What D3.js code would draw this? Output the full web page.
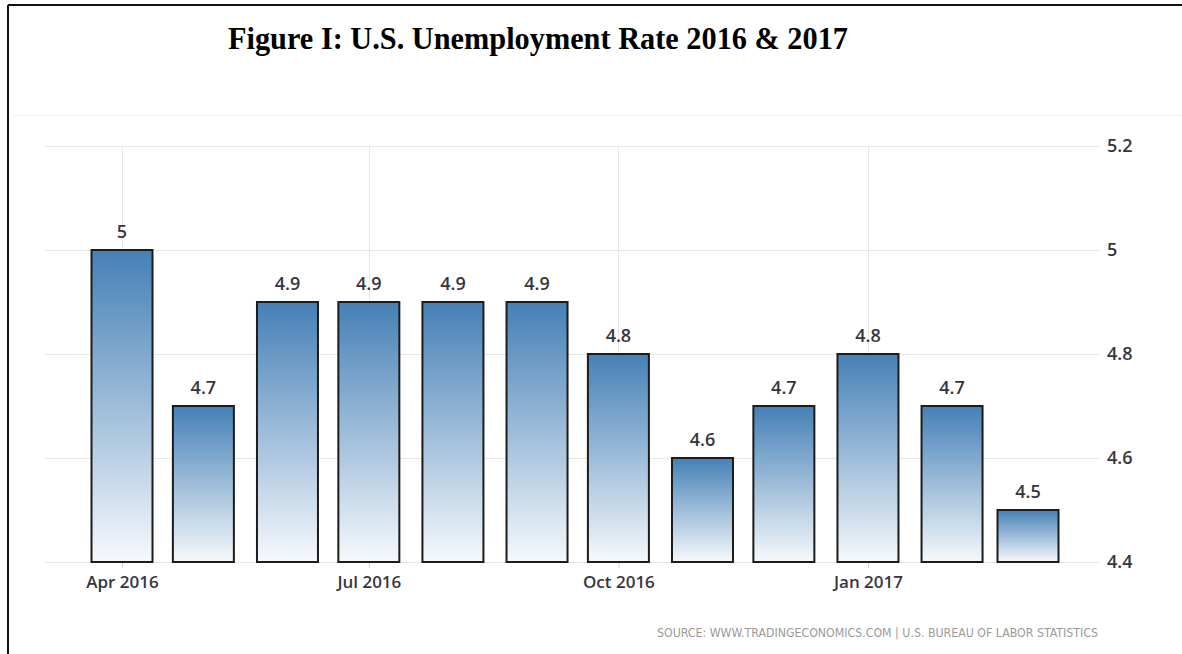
<!DOCTYPE html>
<html>
<head>
<meta charset="utf-8">
<script src="https://cdn.jsdelivr.net/npm/d3@7"></script>
<style>
  html, body { margin: 0; padding: 0; background: #fff; }
  svg { display: block; }
</style>
</head>
<body>
<svg id="chart" width="1182" height="654"></svg>
<script>
// Monthly U.S. unemployment rate, Apr 2016 – Mar 2017 (percent)
const months = ["2016-04", "2016-05", "2016-06", "2016-07", "2016-08", "2016-09",
                "2016-10", "2016-11", "2016-12", "2017-01", "2017-02", "2017-03"];
const rates = [5.0, 4.7, 4.9, 4.9, 4.9, 4.9, 4.8, 4.6, 4.7, 4.8, 4.7, 4.5];
const yTicks = [4.4, 4.6, 4.8, 5.0, 5.2];
const xTickMonths = ["2016-04", "2016-07", "2016-10", "2017-01"];
const titleText = "Figure I: U.S. Unemployment Rate 2016 & 2017";
const sourceText = "SOURCE: WWW.TRADINGECONOMICS.COM | U.S.  BUREAU OF LABOR STATISTICS";

const parseMonth = d3.utcParse("%Y-%m");
const data = months.map((m, i) => ({ date: parseMonth(m), value: rates[i] }));

const svg = d3.select("#chart");

// Outer frame (top and left edges)
svg.append("line").attr("x1", 8).attr("x2", 1182).attr("y1", 5).attr("y2", 5)
  .attr("stroke", "#111").attr("stroke-width", 2);
svg.append("line").attr("x1", 8).attr("x2", 8).attr("y1", 5).attr("y2", 654)
  .attr("stroke", "#111").attr("stroke-width", 2);

// Title
svg.append("text")
  .attr("x", 228).attr("y", 49)
  .attr("font-family", "'Liberation Serif', 'Times New Roman', serif")
  .attr("font-weight", "bold")
  .attr("font-size", 31)
  .attr("fill", "#000")
  .attr("textLength", 620)
  .attr("lengthAdjust", "spacingAndGlyphs")
  .text(titleText);

// Faint separator above the plot
svg.append("line").attr("x1", 12).attr("x2", 1182).attr("y1", 115.5).attr("y2", 115.5)
  .attr("stroke", "#f1f1f1").attr("stroke-width", 1);

// Scales
const x = d3.scaleUtc()
  .domain([parseMonth("2016-04"), parseMonth("2017-03")])
  .range([122, 1028]);
const y = d3.scaleLinear()
  .domain([4.4, 5.2])
  .range([562, 146]);
const barWidth = 61;

const fontUI = "'Open Sans', 'DejaVu Sans', sans-serif";
const textColor = "#363640";

// Horizontal grid + right axis labels
const yAxis = d3.axisRight(y)
  .tickValues(yTicks)
  .tickSize(1100 - 45)
  .tickPadding(7)
  .tickFormat(d3.format("~g"));
const gy = svg.append("g")
  .attr("transform", "translate(45,0)")
  .call(yAxis);
gy.select(".domain").remove();
gy.selectAll(".tick line").attr("stroke", "#e6e6e6").attr("shape-rendering", "crispEdges");
gy.selectAll(".tick text")
  .attr("font-family", fontUI).attr("font-weight", 600).attr("font-size", 18)
  .attr("fill", textColor);

// Vertical grid at quarter months
const xTicks = xTickMonths.map(parseMonth);
svg.append("g").selectAll("line").data(xTicks).join("line")
  .attr("x1", d => Math.round(x(d)) + 0.5).attr("x2", d => Math.round(x(d)) + 0.5)
  .attr("y1", y(5.2)).attr("y2", y(4.4))
  .attr("stroke", "#e6e6e6");

// Bottom axis with labels
const xAxis = d3.axisBottom(x)
  .tickValues(xTicks)
  .tickSize(6)
  .tickPadding(8)
  .tickFormat(d3.utcFormat("%b %Y"));
const gx = svg.append("g")
  .attr("transform", `translate(0,${y(4.4)})`)
  .call(xAxis);
gx.select(".domain").remove();
gx.selectAll(".tick line").attr("stroke", "#d0d0d0");
gx.selectAll(".tick text")
  .attr("font-family", fontUI).attr("font-weight", 600).attr("font-size", 17)
  .attr("fill", textColor);

// Vertical gradient for each bar
const defs = svg.append("defs");
const grad = defs.append("linearGradient")
  .attr("id", "barFill")
  .attr("x1", 0).attr("y1", 0).attr("x2", 0).attr("y2", 1);
grad.append("stop").attr("offset", "0%").attr("stop-color", "#4580b6");
grad.append("stop").attr("offset", "100%").attr("stop-color", "#f6f9fc");

// Bars
svg.append("g").selectAll("rect").data(data).join("rect")
  .attr("x", d => x(d.date) - barWidth / 2)
  .attr("y", d => y(d.value))
  .attr("width", barWidth)
  .attr("height", d => y(4.4) - y(d.value))
  .attr("fill", "url(#barFill)")
  .attr("stroke", "#1c1c1c")
  .attr("stroke-width", 2);

// Value labels
svg.append("g").selectAll("text").data(data).join("text")
  .attr("x", d => x(d.date))
  .attr("y", d => y(d.value) - 12)
  .attr("text-anchor", "middle")
  .attr("font-family", fontUI).attr("font-weight", 600).attr("font-size", 18)
  .attr("fill", textColor)
  .text(d => d3.format("~g")(d.value));

// Source note
svg.append("text")
  .attr("x", 657).attr("y", 637)
  .attr("font-family", "'DejaVu Sans Condensed', 'DejaVu Sans', sans-serif")
  .attr("font-size", 11.5)
  .attr("fill", "#9a9a9a")
  .attr("textLength", 441)
  .attr("lengthAdjust", "spacingAndGlyphs")
  .text(sourceText);
</script>
</body>
</html>
